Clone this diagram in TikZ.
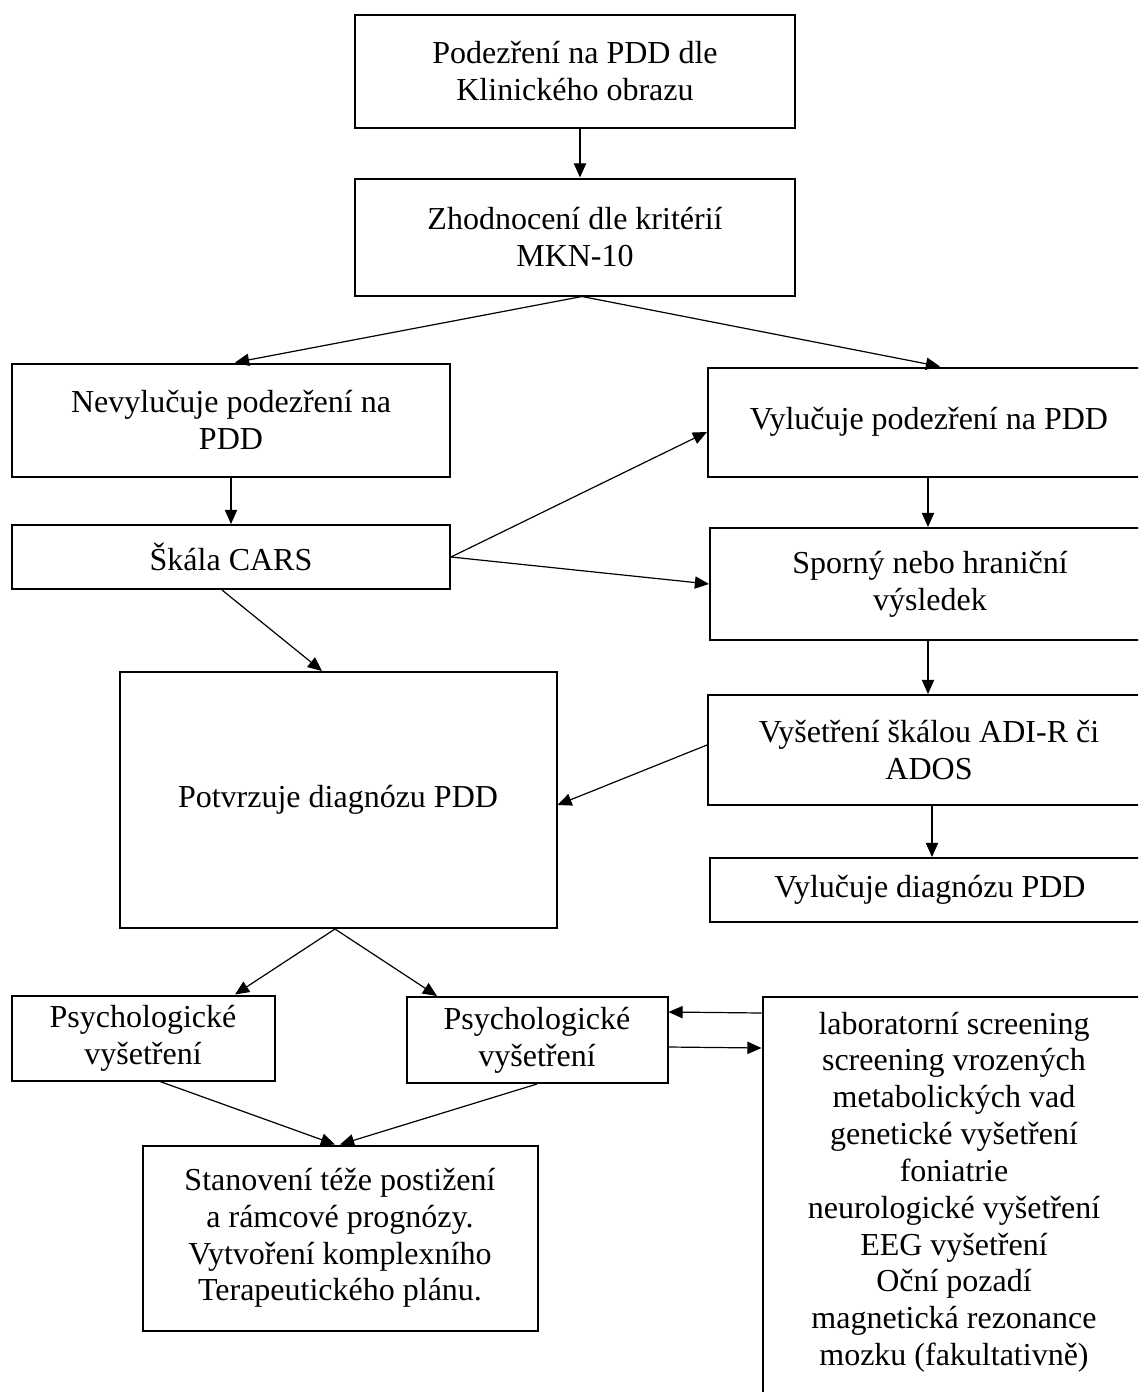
\documentclass[tikz,border=0pt]{standalone}
\usepackage{fontspec}
\setmainfont{Liberation Serif}
\usetikzlibrary{arrows.meta,calc}
\newcommand\pxu{0.375pt}
\begin{document}
\begin{tikzpicture}[
   x=0.375pt, y=-0.375pt,
   font=\fontsize{12}{13.8}\selectfont,
   box/.style={draw,line width=0.75pt,align=center,inner sep=0pt},
   boxsize/.style 2 args={minimum width=#1*\pxu,minimum height=#2*\pxu},
   link/.style={-{Triangle[length=5.3pt,width=4.6pt]},line width=0.45pt}]
\useasboundingbox (0,0) rectangle (1138,1392);
\fill[white] (0,0) rectangle (1138,1392);
\clip (0,0) rectangle (1138,1392);
% left and middle column
\node[box,boxsize={440}{113}] (Podez) at (575,71) {Podezření na PDD dle\\Klinického obrazu};
\node[box,boxsize={440}{117}] (Zhodn) at (575,237) {Zhodnocení dle kritérií\\MKN-10};
\node[box,boxsize={438}{113}] (Nevyl) at (231,420) {Nevylučuje podezření na\\PDD};
\node[box,boxsize={438}{64}] (CARS) at (231,557) {Škála CARS};
\node[box,boxsize={437}{256}] (Potvr) at (338,800) {Potvrzuje diagnózu PDD};
\node[box,boxsize={263}{85}] (PsychA) at (143,1038) {Psychologické\\vyšetření};
\node[box,boxsize={261}{86}] (PsychB) at (537,1040) {Psychologické\\vyšetření};
\node[box,boxsize={395}{185}] (Stanov) at (340,1238) {Stanovení téže postižení\\a rámcové prognózy.\\Vytvoření komplexního\\Terapeutického plánu.};
% right column
\node[box,boxsize={442}{109}] (VylPod) at (929,422) {Vylučuje podezření na PDD};
\node[box,boxsize={440}{112}] (Sporny) at (930,584) {Sporný nebo hraniční\\výsledek};
\node[box,boxsize={442}{110}] (ADIR) at (929,750) {Vyšetření škálou ADI-R či\\ADOS};
\node[box,boxsize={440}{64}] (VylDiag) at (930,890) {Vylučuje diagnózu PDD};
\node[box,anchor=north,minimum width=383*\pxu,inner ysep=5.6pt,text depth=20pt] (Lab) at (954,996)
   {laboratorní screening\\screening vrozených\\metabolických vad\\genetické vyšetření\\foniatrie\\neurologické vyšetření\\EEG vyšetření\\Oční pozadí\\magnetická rezonance\\mozku (fakultativně)};
% connectors
\draw[link] ($(Podez.south)+(5,0)$) -- ($(Zhodn.north)+(5,0)$);
\draw[link] ($(Zhodn.south)+(7,0)$) -- ($(Nevyl.north)+(4,0)$);
\draw[link] ($(Zhodn.south)+(7,0)$) -- ($(VylPod.north)+(11,0)$);
\draw[link] (Nevyl.south) -- (CARS.north);
\draw[link] ($(VylPod.south)+(-1,0)$) -- ($(Sporny.north)+(-2,0)$);
\draw[link] (CARS.east) -- ($(VylPod.west)+(0,10)$);
\draw[link] (CARS.east) -- (Sporny.west);
\draw[link] ($(CARS.south)+(-9,0)$) -- ($(Potvr.north)+(-16,0)$);
\draw[link] ($(ADIR.west)+(0,-5)$) -- ($(Potvr.east)+(0,5)$);
\draw[link] ($(Sporny.south)+(-2,0)$) -- ($(ADIR.north)+(-1,0)$);
\draw[link] ($(ADIR.south)+(3,0)$) -- ($(VylDiag.north)+(2,0)$);
\draw[link] ($(Potvr.south)+(-3,0)$) -- ($(PsychA.north)+(92,0)$);
\draw[link] ($(Potvr.south)+(-3,0)$) -- ($(PsychB.north)+(-100,0)$);
\draw[link] ($(Lab.north west)+(0,17)$) -- ($(PsychB.north east)+(0,16)$);
\draw[link] ($(PsychB.north east)+(0,51)$) -- ($(Lab.north west)+(0,52)$);
\draw[link] ($(PsychA.south)+(17,0)$) -- ($(Stanov.north)+(-5,0)$);
\draw[link] (PsychB.south) -- (Stanov.north);
\end{tikzpicture}
\end{document}
